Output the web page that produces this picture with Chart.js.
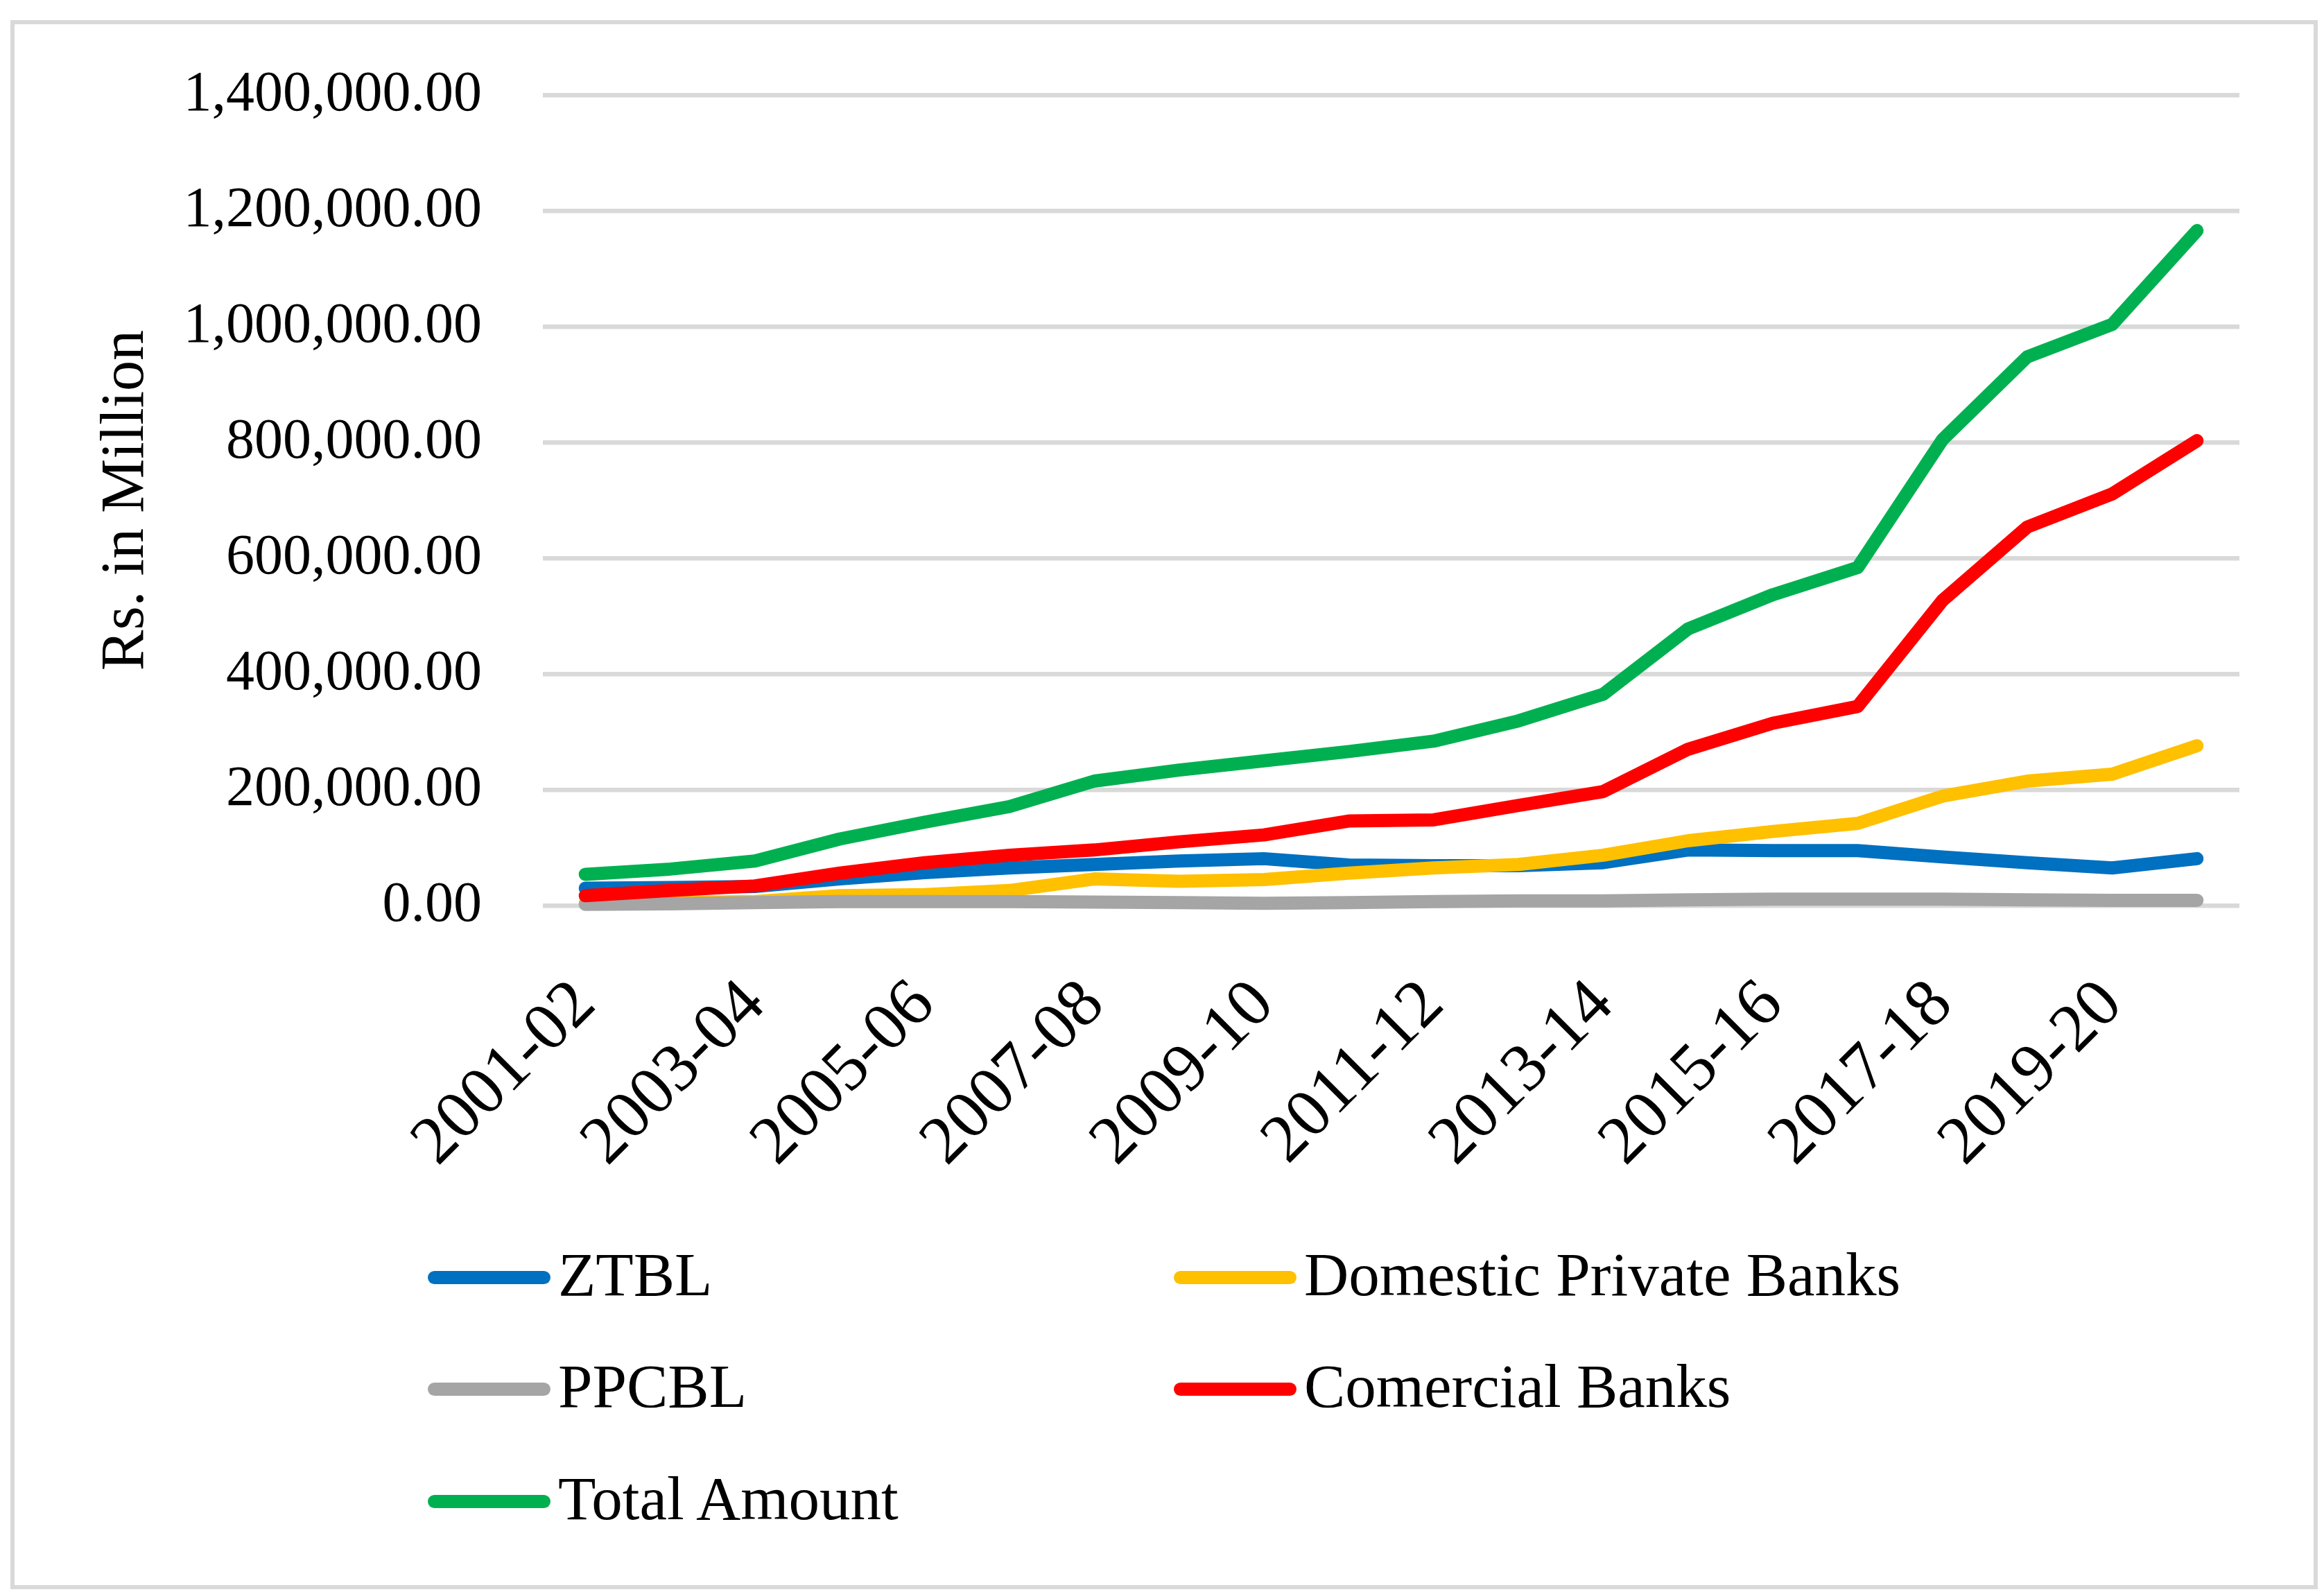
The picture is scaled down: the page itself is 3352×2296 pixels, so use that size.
<!DOCTYPE html>
<html>
<head>
<meta charset="utf-8">
<title>Agricultural credit disbursement</title>
<script src="https://cdn.jsdelivr.net/npm/chart.js@4/dist/chart.umd.min.js"></script>
<style>
    html, body { margin: 0; padding: 0; background: #fff; }
    body { width: 3352px; height: 2296px; position: relative; overflow: hidden; }
    #frame {
        position: absolute; left: 15px; top: 29px; width: 3328px; height: 2263px;
        border: 6px solid #d9d9d9; box-sizing: border-box;
    }
    #chart { position: absolute; left: 0; top: 0; }
    .legend-item {
        position: absolute; height: 100px; display: flex; align-items: center;
        font-family: "Liberation Serif", serif; font-size: 89px; color: #000; white-space: nowrap;
    }
    .legend-item .swatch { width: 177px; height: 19px; border-radius: 10px; margin-right: 11px; }
    .legend-item .label { position: relative; top: -4px; }
</style>
</head>
<body>
<div id="frame"></div>
<canvas id="chart" width="3352" height="1760"></canvas>
<div id="legend"></div>
<script>
(function() {
    'use strict';

    // Years (x axis categories)
    const years = [
        '2001-02', '2002-03', '2003-04', '2004-05', '2005-06', '2006-07', '2007-08',
        '2008-09', '2009-10', '2010-11', '2011-12', '2012-13', '2013-14', '2014-15',
        '2015-16', '2016-17', '2017-18', '2018-19', '2019-20', '2020-21'
    ];

    // Rs. in Million
    const ztbl = [30000, 31000, 33000, 46000, 57000, 65000, 71000, 77000, 81000, 70000,
        69000, 69000, 74000, 96000, 95000, 95000, 84000, 74000, 65000, 81000];
    const domesticPrivate = [4000, 5000, 7000, 17000, 19000, 26000, 46000, 42000, 45000, 56000,
        65000, 71000, 87000, 112000, 128000, 142000, 189000, 215000, 227000, 276000];
    const ppcbl = [2000, 3000, 5000, 7000, 7000, 7000, 6000, 5000, 4000, 5000,
        7000, 8000, 8000, 10000, 11000, 11000, 11000, 10000, 9000, 9000];
    const commercial = [17000, 26000, 34000, 56000, 74000, 87000, 96000, 110000, 122000, 146000,
        148000, 173000, 197000, 270000, 315000, 344000, 527000, 654000, 711000, 803000];
    const totalAmount = [54000, 63000, 77000, 115000, 144000, 171000, 215000, 234000, 250000, 266000,
        284000, 319000, 365000, 478000, 537000, 584000, 805000, 948000, 1004000, 1166000];

    const seriesNames = ['ZTBL', 'Domestic Private Banks', 'PPCBL', 'Comercial Banks', 'Total Amount'];
    const seriesData = [ztbl, domesticPrivate, ppcbl, commercial, totalAmount];
    const seriesColors = ['#0070C0', '#FFC000', '#A5A5A5', '#FF0000', '#00B050'];

    // y axis ticks
    const yMin = 0;
    const yMax = 1400000;
    const yStep = 200000;

    const FONT = '"Liberation Serif", serif';

    const datasets = seriesNames.map(function(name, i) {
        return {
            label: name,
            data: seriesData[i],
            borderColor: seriesColors[i],
            backgroundColor: seriesColors[i],
            borderWidth: 19,
            borderCapStyle: 'round',
            borderJoinStyle: 'round',
            pointRadius: 0,
            pointHoverRadius: 0,
            tension: 0,
            fill: false,
            clip: false,
            // later series are painted on top, as in the original
            order: seriesNames.length - i
        };
    });

    const chart = new Chart(document.getElementById('chart'), {
        type: 'line',
        data: {
            labels: years,
            datasets: datasets
        },
        options: {
            responsive: false,
            devicePixelRatio: 1,
            animation: false,
            layout: {
                padding: { left: 0, right: 122, top: 121, bottom: 0 }
            },
            scales: {
                x: {
                    offset: true,
                    grid: { display: false, drawTicks: false },
                    border: { display: false },
                    ticks: {
                        autoSkip: false,
                        minRotation: 45,
                        maxRotation: 45,
                        padding: 86,
                        color: '#000',
                        font: { family: FONT, size: 98 },
                        callback: function(value, index) {
                            return index % 2 === 0 ? this.getLabelForValue(value) : '';
                        }
                    },
                    afterFit: function(scale) { scale.height = 454; }
                },
                y: {
                    min: yMin,
                    max: yMax,
                    grid: { color: '#d9d9d9', lineWidth: 6.5, drawTicks: false },
                    border: { display: false },
                    ticks: {
                        stepSize: yStep,
                        padding: 88,
                        color: '#000',
                        font: { family: FONT, size: 82 },
                        callback: function(value) {
                            return value.toLocaleString('en-US', {
                                minimumFractionDigits: 2, maximumFractionDigits: 2
                            });
                        }
                    },
                    title: {
                        display: true,
                        text: 'Rs. in Million',
                        color: '#000',
                        font: { family: FONT, size: 88 },
                        padding: { top: 130, bottom: 0 }
                    },
                    afterFit: function(scale) { scale.width = 783; }
                }
            },
            plugins: {
                legend: { display: false },
                tooltip: { enabled: false }
            }
        }
    });

    // Legend in two columns, like the original
    const legendCols = [617, 1693];
    const legendRows = [1842, 2003, 2165];
    const legend = document.getElementById('legend');
    seriesNames.forEach(function(name, i) {
        const item = document.createElement('div');
        item.className = 'legend-item';
        item.style.left = legendCols[i % 2] + 'px';
        item.style.top = (legendRows[Math.floor(i / 2)] - 50) + 'px';
        const sw = document.createElement('span');
        sw.className = 'swatch';
        sw.style.background = chart.data.datasets[i].borderColor;
        const tx = document.createElement('span');
        tx.className = 'label';
        tx.textContent = name;
        item.appendChild(sw);
        item.appendChild(tx);
        legend.appendChild(item);
    });
})();
</script>
</body>
</html>
